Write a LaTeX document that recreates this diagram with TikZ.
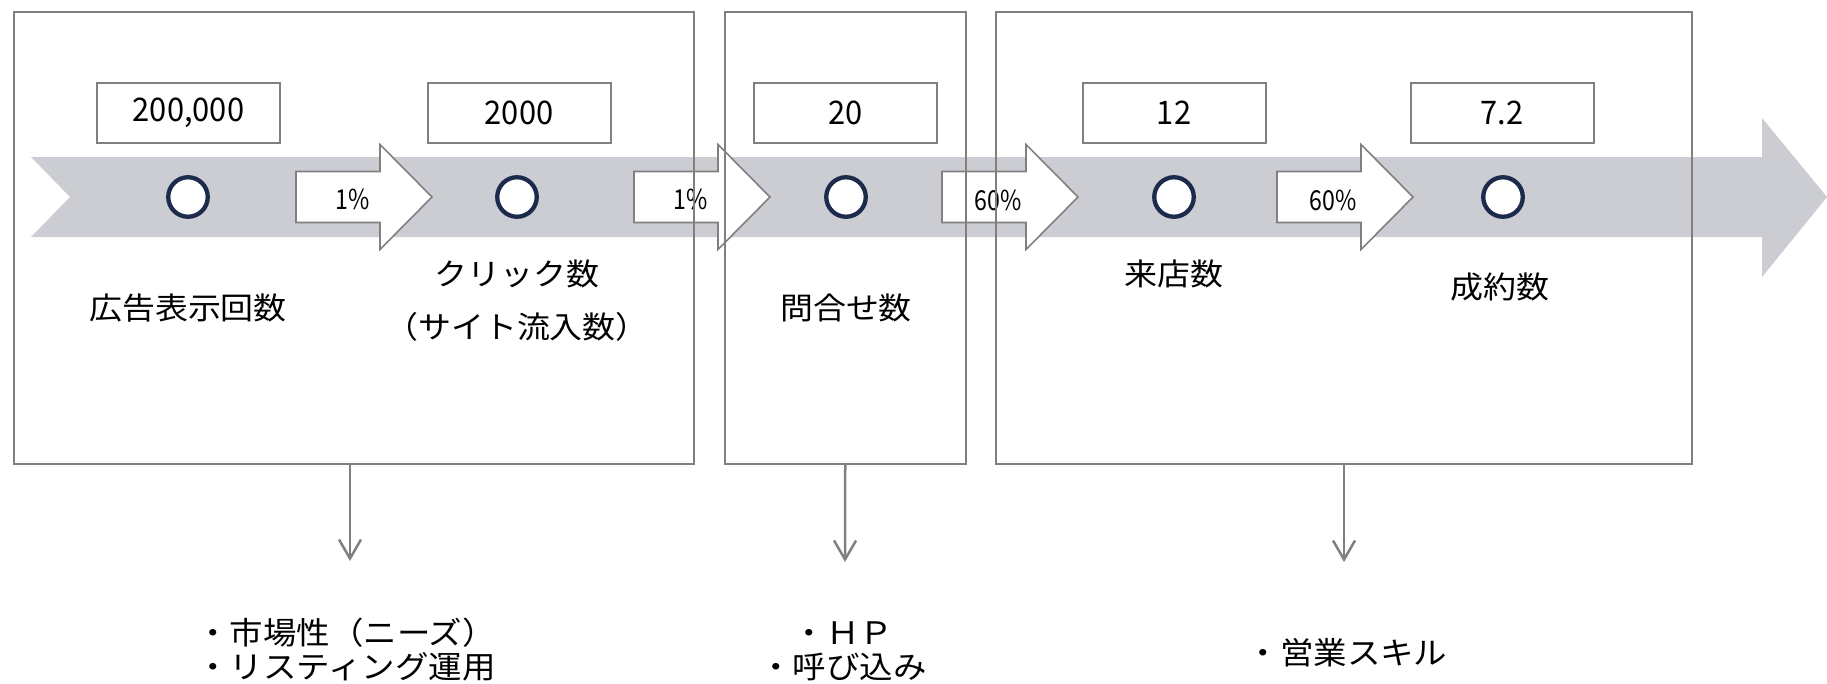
\documentclass[tikz,border=0pt]{standalone}
\usepackage{fontspec}
\setmainfont{Noto Sans CJK JP}
\newfontfamily\jpwide[FakeStretch=1.08]{Noto Sans CJK JP}
\newfontfamily\numnarrow[FakeStretch=0.84]{Noto Sans CJK JP}
\newfontfamily\numbox[FakeStretch=0.95]{Noto Sans CJK JP}
\usetikzlibrary{arrows.meta}
\definecolor{bandgray}{HTML}{CBCDD3}
\definecolor{edgegray}{HTML}{808080}
\definecolor{navyblue}{HTML}{1C2A4C}
\tikzset{
  stagebox/.style={draw=edgegray, line width=2pt, rectangle, inner sep=0pt},
  valbox/.style={draw=edgegray, line width=2pt, fill=white, rectangle, minimum width=183pt, minimum height=60pt, inner sep=0pt, font=\numbox\fontsize{32.5pt}{38pt}\selectfont},
  ring/.style={draw=navyblue, line width=4.3pt, fill=white, circle, minimum size=39.5pt, inner sep=0pt},
  convstyle/.style={draw=edgegray, line width=1.6pt, fill=white, line join=miter},
  pct/.style={font=\numnarrow\fontsize{27.5pt}{32pt}\selectfont, inner sep=0pt},
  stagelabel/.style={font=\jpwide\fontsize{30.5pt}{36pt}\selectfont, inner sep=0pt, align=center},
  notelabel/.style={font=\jpwide\fontsize{31pt}{34pt}\selectfont, inner sep=0pt},
  downarrow/.style={draw=edgegray, line width=2.5pt, -{Straight Barb[length=19pt,width=22pt]}},
  conv/.pic={\draw[convstyle] (0,-25.5) -- (84,-25.5) -- (84,-52.5) -- (136,0) -- (84,52.5) -- (84,25.5) -- (0,25.5) -- cycle;}
}
\begin{document}
\begin{tikzpicture}[x=1pt,y=-1pt]
\useasboundingbox (0,0) rectangle (1827,683);
% band
\fill[bandgray] (31,157) -- (1762,157) -- (1762,118) -- (1827,197) -- (1762,277) -- (1762,237) -- (31,237) -- (70,197) -- cycle;
% conversion arrows
\pic at (296,197) {conv};
\pic at (634,197) {conv};
\pic at (942,197) {conv};
\pic at (1277,197) {conv};
\node[pct] (p1) at (353,199) {1\%};
\node[pct] (p2) at (691,199) {1\%};
\node[pct] (p3) at (998,200) {60\%};
\node[pct] (p4) at (1333,200) {60\%};
% rings
\node[ring] (c1) at (188,197) {};
\node[ring] (c2) at (517,197) {};
\node[ring] (c3) at (846,197) {};
\node[ring] (c4) at (1174,197) {};
\node[ring] (c5) at (1503,197) {};
% value boxes
\node[valbox] (v1) at (188.5,113) {200,000};
\node[valbox] (v2) at (519,113) {2000};
\node[valbox] (v3) at (845.5,113) {20};
\node[valbox] (v4) at (1174,113) {12};
\node[valbox] (v5) at (1502,113) {7.2};
% stage labels
\node[stagelabel] (l1) at (188,308) {広告表示回数};
\node[stagelabel] (l2a) at (517,274) {クリック数};
\node[stagelabel] (l2b) at (517,327) {（サイト流入数）};
\node[stagelabel] (l3) at (846,308) {問合せ数};
\node[stagelabel] (l4) at (1174,274) {来店数};
\node[stagelabel] (l5) at (1500,287) {成約数};
% stage boxes (drawn on top)
\node[stagebox, minimum width=680pt, minimum height=452pt] (b1) at (354,238) {};
\node[stagebox, minimum width=241.5pt, minimum height=452pt] (b2) at (845.25,238) {};
\node[stagebox, minimum width=696pt, minimum height=452pt] (b3) at (1344,238) {};
% notes
\node[notelabel, align=left] (n1) at (346,650) {・市場性（ニーズ）\\・リスティング運用};
\node[notelabel, align=center] (n2) at (843,651) {・ＨＰ\\・呼び込み};
\node[notelabel] (n3) at (1347,653) {・営業スキル};
\coordinate (e1) at (350,561);
\coordinate (e2) at (845,562);
\coordinate (e3) at (1344,562);
\draw[downarrow] (b1.south -| e1) -- (e1);
\draw[downarrow] (b2.south) -- (e2);
\draw[downarrow] (b3.south) -- (e3);
\end{tikzpicture}
\end{document}
